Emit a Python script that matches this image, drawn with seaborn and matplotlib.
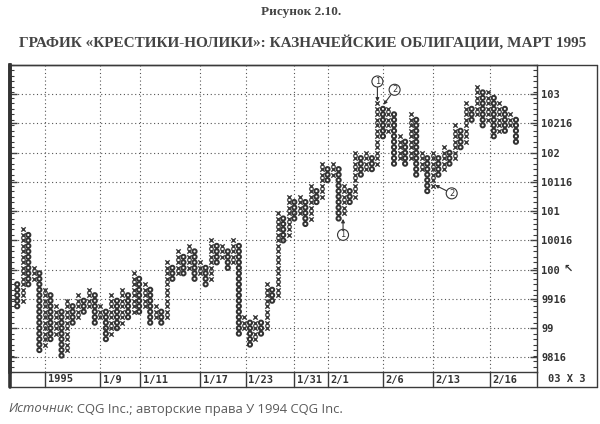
import numpy as np
import pandas as pd
import matplotlib
matplotlib.use("Agg")
import matplotlib.pyplot as plt
import matplotlib.transforms as mtransforms
from matplotlib.lines import Line2D
import seaborn as sns

# ---------------- data (point & figure, box = 3/32, box 0 = 98 8/32) ----------------
BOX = 3 / 32
BASE = 98.25
col_type = ["O", "X"] * 45 + ["O"]
col_high_box = [16, 26, 25, 19, 18, 15, 14, 12, 11, 13,
                12, 14, 13, 15, 14, 12, 11, 14, 13, 15,
                14, 18, 17, 16, 15, 12, 11, 20, 19, 22,
                21, 23, 22, 20, 19, 24, 23, 23, 22, 24,
                23, 10, 9, 10, 9, 16, 15, 29, 28, 32,
                31, 32, 31, 34, 33, 38, 37, 38, 37, 34,
                33, 40, 39, 40, 39, 49, 48, 48, 47, 43,
                42, 47, 46, 40, 39, 40, 39, 41, 40, 45,
                44, 49, 48, 52, 51, 51, 50, 49, 48, 47,
                46]
col_low_box = [12, 13, 16, 17, 4, 5, 6, 7, 3, 4,
               9, 10, 11, 12, 9, 10, 6, 7, 8, 9,
               10, 11, 11, 12, 9, 10, 9, 10, 17, 18,
               18, 19, 17, 18, 16, 17, 20, 21, 19, 20,
               7, 8, 5, 6, 7, 8, 13, 14, 24, 25,
               28, 29, 27, 28, 31, 32, 35, 36, 28, 29,
               31, 32, 36, 37, 37, 38, 43, 44, 38, 39,
               38, 39, 36, 37, 33, 34, 36, 37, 38, 39,
               41, 42, 46, 47, 45, 46, 43, 44, 44, 45,
               42]

price_ticks = [98.5, 99.0, 99.5, 100.0, 100.5, 101.0, 101.5, 102.0, 102.5, 103.0]
price_labels = ["9816", "99", "9916", "100", "10016", "101", "10116", "102", "10216", "103"]
date_cols = [6, 16, 23.2, 34, 42.2, 51, 57, 67, 76, 86.3]
date_labels = ["1995", "1/9", "1/11", "1/17", "1/23", "1/31", "2/1", "2/6", "2/13", "2/16"]
scale_label = "03 X 3"

title1 = "Рисунок 2.10."
title2 = "ГРАФИК «КРЕСТИКИ-НОЛИКИ»: КАЗНАЧЕЙСКИЕ ОБЛИГАЦИИ, МАРТ 1995"
source_it = "Источник"
source_rest = ": CQG Inc.; авторские права У 1994 CQG Inc."

# ---------------- expand columns into boxes ----------------
rows = []
for i, (t, hi, lo) in enumerate(zip(col_type, col_high_box, col_low_box), start=1):
    for k in range(lo, hi + 1):
        rows.append({"col": i, "price": BASE + k * BOX, "type": t})
df = pd.DataFrame(rows)

def hi_price(c):
    return BASE + col_high_box[c - 1] * BOX

def lo_price(c):
    return BASE + col_low_box[c - 1] * BOX

# ---------------- figure ----------------
sns.set_style("white")
plt.rcParams["font.family"] = ["DejaVu Sans"]
W, H = 600, 424
fig = plt.figure(figsize=(W / 100, H / 100), dpi=100)
fig.patch.set_facecolor("white")

def fx(px):
    return px / W

def fy(py):
    return 1 - py / H

ax_l, ax_r, ax_t, ax_b = 10, 537, 65, 372
ax = fig.add_axes([fx(ax_l), fy(ax_b), (ax_r - ax_l) / W, (ax_b - ax_t) / H])
ax.set_facecolor("white")

INK = "#3a3a3a"
GRID = "#555555"

# grid
for p in price_ticks:
    ax.axhline(p, color=GRID, lw=0.8, ls=(0, (1, 2.4)), zorder=1)
for c in date_cols:
    ax.axvline(c, color=GRID, lw=0.8, ls=(0, (1, 2.4)), zorder=1)

# X and O boxes
sns.scatterplot(data=df[df["type"] == "X"], x="col", y="price", marker="x",
                s=10, color="#3a3a3a", linewidth=1.0, ax=ax, legend=False, zorder=3)
sns.scatterplot(data=df[df["type"] == "O"], x="col", y="price", marker="o",
                s=9, facecolor="none", edgecolor="#333333", linewidth=1.45,
                ax=ax, legend=False, zorder=3)

ax.set_xlim(-0.3, 94.8)
ax.set_ylim(98.26, 103.5)
ax.set_xlabel("")
ax.set_ylabel("")
ax.set_xticks([])

# y axis: labels on the right, inward ticks on both spines
ax.yaxis.tick_right()
ax.set_yticks(price_ticks)
ax.set_yticklabels(price_labels)
ax.set_yticks([BASE + k * BOX for k in range(0, 57)], minor=True)
ax.tick_params(axis="y", which="both", left=True, right=True, labelleft=False,
               labelright=True, direction="in", color=INK)
ax.tick_params(axis="y", which="major", length=5, width=1, pad=3,
               labelsize=7.5, labelcolor="#333333")
ax.tick_params(axis="y", which="minor", length=3, width=0.8)
for lab in ax.get_yticklabels():
    lab.set_fontfamily("DejaVu Sans Mono")
    lab.set_fontweight("bold")

for side in ["top", "right", "bottom"]:
    ax.spines[side].set_color(INK)
    ax.spines[side].set_linewidth(1.0)
ax.spines["left"].set_color("#333333")
ax.spines["left"].set_linewidth(2.6)

# cursor mark next to "100"
fig.text(fx(563), fy(269), "\u2196", fontsize=8, fontweight="bold", color="#333333",
         ha="left", va="center", family="DejaVu Sans")

# ---------------- frame and date strip ----------------
def fig_line(x0, y0, x1, y1, lw=1.0, color=INK):
    fig.add_artist(Line2D([fx(x0), fx(x1)], [fy(y0), fy(y1)], lw=lw, color=color,
                          transform=fig.transFigure))

strip_b = 387
fig_line(ax_l, ax_t, 597, ax_t)            # top
fig_line(597, ax_t, 597, strip_b)          # right border
fig_line(9, strip_b, 597, strip_b)         # bottom border
fig_line(9.5, ax_t, 9.5, strip_b, lw=2.6, color="#333333")  # left thick border
fig_line(ax_r, ax_b, ax_r, strip_b)        # separator before scale label

trans_strip = mtransforms.blended_transform_factory(ax.transData, fig.transFigure)
for c, lbl in zip(date_cols, date_labels):
    ax.add_line(Line2D([c, c], [fy(ax_b), fy(strip_b)], lw=1.0, color=INK,
                       transform=trans_strip, clip_on=False))
    ax.annotate(lbl, xy=(c, fy(379.5)), xycoords=trans_strip, xytext=(2, 0),
                textcoords="offset points", ha="left", va="center", fontsize=7.5,
                family="DejaVu Sans Mono", fontweight="bold", color="#333333",
                annotation_clip=False)
fig.text(fx(567), fy(379.5), scale_label, ha="center", va="center", fontsize=7.5,
         family="DejaVu Sans Mono", fontweight="bold", color="#333333")

# ---------------- circled annotations ----------------
circ = dict(boxstyle="circle,pad=0.12", fc="white", ec="#333333", lw=0.8)
arr = dict(arrowstyle="-|>", color="#333333", lw=0.8, mutation_scale=5,
           shrinkA=0, shrinkB=0)
ann_kw = dict(textcoords="offset points", ha="center", va="center", fontsize=6,
              color="#333333", bbox=circ, arrowprops=arr, zorder=5)
ax.annotate("1", xy=(66, hi_price(66) + 0.03), xytext=(0, 14.5), **ann_kw)
ax.annotate("2", xy=(67.1, hi_price(67) + 0.07), xytext=(8, 10.8), **ann_kw)
ax.annotate("1", xy=(59.8, lo_price(60) - 0.1), xytext=(0, -11.5), **ann_kw)
ax.annotate("2", xy=(76.4, lo_price(76) + 0.01), xytext=(12, -6), **ann_kw)

# ---------------- titles and source ----------------
fig.text(0.502, fy(12), title1, ha="center", va="center", fontsize=9.5,
         family="Liberation Serif", fontweight="bold", color="#444444")
fig.text(0.505, fy(42), title2, ha="center", va="center", fontsize=11,
         family="Liberation Serif", fontweight="bold", color="#444444")

t1 = fig.text(fx(8), fy(409), source_it, ha="left", va="center", fontsize=9.4,
              family="Open Sans", style="italic", color="#5a5a5a")
fig.canvas.draw()
bb = t1.get_window_extent(renderer=fig.canvas.get_renderer())
fig.text(bb.x1 / fig.dpi / (W / 100), fy(409), source_rest, ha="left", va="center",
         fontsize=9.4, family="Open Sans", color="#5a5a5a")

fig.savefig("out.png", dpi=100, facecolor="white")
